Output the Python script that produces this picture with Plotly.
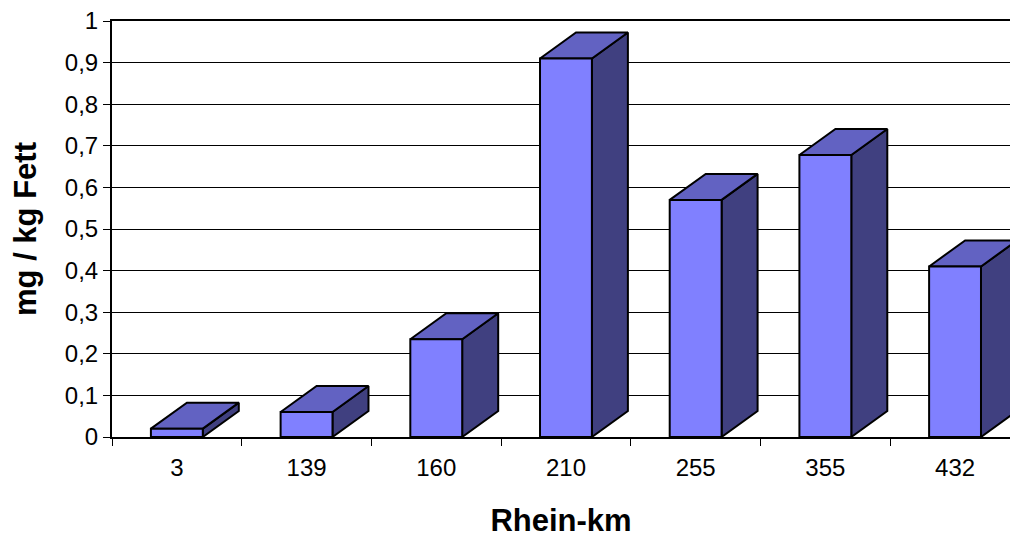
import plotly.graph_objects as go

categories = ["3", "139", "160", "210", "255", "355", "432"]
values = [0.02, 0.06, 0.235, 0.91, 0.57, 0.678, 0.41]
y_ticks = [0, 0.1, 0.2, 0.3, 0.4, 0.5, 0.6, 0.7, 0.8, 0.9, 1]

FRONT = "#8080FF"
TOP = "#6262C2"
SIDE = "#404080"
HALF = 0.2      # half width of bar front (category units)
DX = 0.2776     # 3D depth offset in x (category units)
DY = 0.0625     # 3D depth offset in y (value units)

fig = go.Figure()

def face(xs, ys, color):
    fig.add_trace(go.Scatter(
        x=xs + [xs[0]], y=ys + [ys[0]], mode="lines", fill="toself",
        fillcolor=color, line=dict(color="black", width=2),
        hoverinfo="skip", showlegend=False))

for i, v in enumerate(values):
    x0, x1 = i - HALF, i + HALF
    face([x1, x1 + DX, x1 + DX, x1], [0, DY, v + DY, v], SIDE)
    face([x0, x1, x1 + DX, x0 + DX], [v, v, v + DY, v + DY], TOP)
    face([x0, x1, x1, x0], [0, 0, v, v], FRONT)

boundaries = [i - 0.5 for i in range(len(categories) + 1)]

fig.update_layout(
    width=1010, height=538,
    margin=dict(l=112, r=0, t=21, b=101),
    paper_bgcolor="white", plot_bgcolor="white",
    separators=",.",
    font=dict(family="Liberation Sans, Arial, sans-serif", size=24, color="black"),
    xaxis=dict(
        range=[-0.5, -0.5 + 898 / 129.7],
        tickvals=list(range(len(categories))), ticktext=categories,
        ticks="", showgrid=False, zeroline=False,
        showline=True, linecolor="black", linewidth=2, mirror=True,
        minor=dict(tickvals=boundaries, ticks="outside", ticklen=7,
                   tickcolor="black", tickwidth=1, showgrid=False),
        tickfont=dict(size=24), ticklabelstandoff=8,
        title=dict(text="<b>Rhein-km</b>", font=dict(size=31), standoff=38),
        automargin=False,
    ),
    yaxis=dict(
        range=[0, 1], tickvals=y_ticks,
        tickformat=".1~f",
        ticks="outside", ticklen=7, tickcolor="black", tickwidth=1,
        showgrid=True, gridcolor="black", gridwidth=1, zeroline=False,
        showline=True, linecolor="black", linewidth=2,
        tickfont=dict(size=24),
        title=dict(text="<b>mg / kg Fett</b>", font=dict(size=31), standoff=19),
        automargin=False,
    ),
)

fig.write_html(
    "out.html",
    config={"displayModeBar": False},
    post_script="document.body.style.margin='0';document.body.style.overflow='hidden';",
)
